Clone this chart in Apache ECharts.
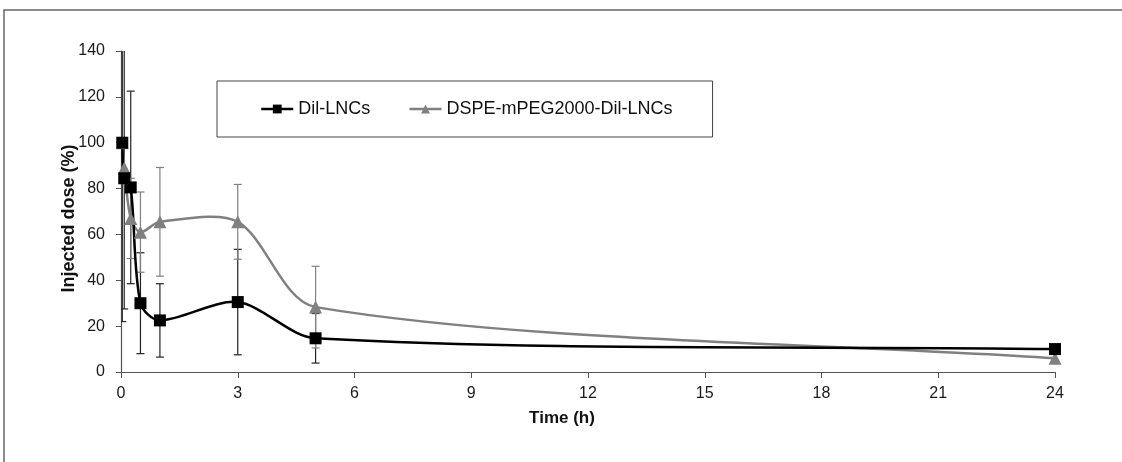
<!DOCTYPE html>
<html>
<head>
<meta charset="utf-8">
<script src="https://cdn.jsdelivr.net/npm/echarts@6/dist/echarts.min.js"></script>
<style>
  html, body { margin: 0; padding: 0; background: #fff; }
  #chart { width: 1122px; height: 462px; }
</style>
</head>
<body>
<div id="chart"></div>
<script>
// data
var times = [0.033, 0.083, 0.25, 0.5, 1, 3, 5, 24];
var lncValues = [100, 84.5, 80.5, 30, 22.5, 30.5, 14.7, 10];
var lncErrors = [78, 57, 42, 22, 16, 23, 10.8, 0];
var pegValues = [100, 89, 67, 61, 65.5, 65.5, 28.3, 6];
var pegErrors = [0, 0, 17.5, 17.5, 23.7, 16.3, 17.8, 0];
var xTicks = [0, 3, 6, 9, 12, 15, 18, 21, 24];
var yTicks = [0, 20, 40, 60, 80, 100, 120, 140];

function points(vals) {
    return times.map(function (t, i) { return [t, vals[i]]; });
}
function bars(vals, errs) {
    var out = [];
    times.forEach(function (t, i) {
        if (errs[i] > 0) out.push([t, vals[i] - errs[i], vals[i] + errs[i]]);
    });
    return out;
}
function errorBar(color) {
    return function (params, api) {
        var lo = api.coord([api.value(0), api.value(1)]);
        var hi = api.coord([api.value(0), api.value(2)]);
        var w = 4;
        var style = { stroke: color, lineWidth: 1.2 };
        return {
            type: 'group',
            children: [
                { type: 'line', shape: { x1: hi[0], y1: hi[1], x2: lo[0], y2: lo[1] }, style: style },
                { type: 'line', shape: { x1: hi[0] - w, y1: hi[1], x2: hi[0] + w, y2: hi[1] }, style: style },
                { type: 'line', shape: { x1: lo[0] - w, y1: lo[1], x2: lo[0] + w, y2: lo[1] }, style: style }
            ]
        };
    };
}
// excel-like smoothed segment between point i and i+1 (no clamping, so it can overshoot)
var tension = 0.3;
function curve(vals, color) {
    return function (params, api) {
        var n = times.length;
        var i = params.dataIndex;
        if (i >= n - 1) return null;
        function p(j) {
            j = Math.max(0, Math.min(n - 1, j));
            return api.coord([times[j], vals[j]]);
        }
        function dist(a, b) {
            return Math.sqrt((a[0] - b[0]) * (a[0] - b[0]) + (a[1] - b[1]) * (a[1] - b[1]));
        }
        var p0 = p(i - 1), p1 = p(i), p2 = p(i + 1), p3 = p(i + 2);
        var d01 = dist(p0, p1), d12 = dist(p1, p2), d23 = dist(p2, p3);
        var r1 = d01 + d12 > 0 ? tension * d12 / (d01 + d12) : 0;
        var r2 = d12 + d23 > 0 ? tension * d12 / (d12 + d23) : 0;
        return {
            type: 'bezierCurve',
            shape: {
                x1: p1[0], y1: p1[1], x2: p2[0], y2: p2[1],
                cpx1: p1[0] + (p2[0] - p0[0]) * r1, cpy1: p1[1] + (p2[1] - p0[1]) * r1,
                cpx2: p2[0] - (p3[0] - p1[0]) * r2, cpy2: p2[1] - (p3[1] - p1[1]) * r2
            },
            style: { stroke: color, lineWidth: 2.5, fill: 'none' }
        };
    };
}

var chart = echarts.init(document.getElementById('chart'));

var option = {
    animation: false,
    textStyle: { fontFamily: 'Liberation Sans, Arial, sans-serif' },
    graphic: [{
        type: 'rect',
        shape: { x: 4, y: 10, width: 1140, height: 480 },
        style: { fill: 'none', stroke: '#666', lineWidth: 1.5 },
        silent: true
    }],
    grid: { left: 121, right: 67, top: 51, bottom: 90 },
    legend: {
        left: 217,
        top: 81,
        padding: [19, 40, 19, 43],
        itemGap: 38,
        itemWidth: 32,
        itemHeight: 11,
        borderColor: '#444',
        borderWidth: 1,
        textStyle: { fontSize: 18, color: '#111' },
        data: [
            { name: 'Dil-LNCs', lineStyle: { opacity: 1, width: 2.5, color: '#000' } },
            { name: 'DSPE-mPEG2000-Dil-LNCs', lineStyle: { opacity: 1, width: 2.5, color: '#808080' } }
        ]
    },
    xAxis: {
        type: 'value',
        min: 0,
        max: 24,
        interval: 3,
        name: 'Time (h)',
        nameLocation: 'middle',
        nameGap: 38,
        nameMoveOverlap: false,
        nameTextStyle: { fontSize: 17, fontWeight: 'bold', color: '#111', padding: [0, 52, 0, 0] },
        axisLine: { lineStyle: { color: '#555', width: 1.2 } },
        axisTick: { length: 6, lineStyle: { color: '#555' } },
        axisLabel: {
            fontSize: 16, color: '#1a1a1a', margin: 14,
            formatter: function (v) { return xTicks.indexOf(v) >= 0 ? String(v) : ''; }
        },
        splitLine: { show: false }
    },
    yAxis: {
        type: 'value',
        min: 0,
        max: 140,
        interval: 20,
        name: 'Injected dose (%)',
        nameLocation: 'middle',
        nameGap: 43,
        nameMoveOverlap: false,
        nameTextStyle: { fontSize: 18, fontWeight: 'bold', color: '#111', padding: [0, 14, 0, 0] },
        axisLine: { show: true, lineStyle: { color: '#555', width: 1.2 } },
        axisTick: { show: true, length: 5, lineStyle: { color: '#555' } },
        axisLabel: {
            fontSize: 16, color: '#1a1a1a', margin: 16,
            formatter: function (v) { return yTicks.indexOf(v) >= 0 ? String(v) : ''; }
        },
        splitLine: { show: false }
    },
    series: [
        {
            name: 'lnc-err',
            type: 'custom',
            renderItem: errorBar('#222'),
            data: bars(lncValues, lncErrors),
            clip: true,
            z: 1
        },
        {
            name: 'peg-err',
            type: 'custom',
            renderItem: errorBar('#808080'),
            data: bars(pegValues, pegErrors),
            clip: true,
            z: 1
        },
        {
            name: 'peg-curve',
            type: 'custom',
            renderItem: curve(pegValues, '#808080'),
            data: points(pegValues),
            clip: true,
            z: 2
        },
        {
            name: 'lnc-curve',
            type: 'custom',
            renderItem: curve(lncValues, '#000'),
            data: points(lncValues),
            clip: true,
            z: 2
        },
        {
            name: 'DSPE-mPEG2000-Dil-LNCs',
            type: 'line',
            symbol: 'triangle',
            symbolSize: 13,
            color: '#808080',
            lineStyle: { width: 2.5, color: '#808080', opacity: 0 },
            itemStyle: { color: '#808080' },
            data: points(pegValues),
            z: 3
        },
        {
            name: 'Dil-LNCs',
            type: 'line',
            symbol: 'rect',
            symbolSize: 12,
            color: '#000',
            lineStyle: { width: 2.5, color: '#000', opacity: 0 },
            itemStyle: { color: '#000' },
            data: points(lncValues),
            z: 4
        }
    ]
};

chart.setOption(option);
</script>
</body>
</html>
